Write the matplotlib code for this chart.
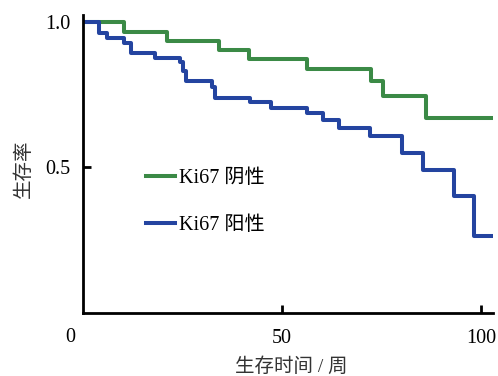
import numpy as np
import matplotlib
matplotlib.use("Agg")
import matplotlib.pyplot as plt

plt.rcParams['font.family'] = ['Liberation Serif', 'Noto Sans CJK SC']

# Kaplan-Meier step data
neg_t = [0, 10.3, 21.1, 34.2, 41.8, 56.2, 72.3, 75.3, 86.2, 103]
neg_s = [1.0, 0.967, 0.936, 0.904, 0.872, 0.838, 0.798, 0.744, 0.671, 0.671]

pos_t = [0, 4.1, 6.0, 10.4, 12.1, 18.1, 24.4, 25.0, 26.0, 32.3, 33.1, 42.0, 47.2,
         56.2, 60.2, 64.3, 72.1, 80.2, 85.3, 93.2, 98.3, 103]
pos_s = [1.0, 0.961, 0.946, 0.929, 0.893, 0.876, 0.864, 0.832, 0.796, 0.776, 0.739,
         0.724, 0.705, 0.687, 0.664, 0.636, 0.607, 0.550, 0.493, 0.402, 0.265, 0.265]

labels = ['Ki67 阴性', 'Ki67 阳性']
green = '#3b8a46'
blue = '#2444a0'
fs = 14.5

fig = plt.figure(figsize=(4.98, 3.76), dpi=100)
ax = fig.add_axes([83/498, 1-313/376, 410/498, 298/376])

ax.step(neg_t, neg_s, where='post', color=green, lw=2.9, label=labels[0])
ax.step(pos_t, pos_s, where='post', color=blue, lw=2.9, label=labels[1])

ax.set_xlim(0, 103)
ax.set_ylim(0, 1.024)
ax.set_xticks([50, 100])
ax.set_yticks([0.5, 1.0])
ax.set_yticklabels(['0.5', '1.0'])
ax.tick_params(direction='in', length=6, width=2, labelsize=fs, colors='black')
ax.tick_params(axis='y', pad=9)
ax.tick_params(axis='x', pad=11.5)
for side in ['top', 'right']:
    ax.spines[side].set_visible(False)
for side in ['left', 'bottom']:
    ax.spines[side].set_linewidth(2)

fig.text(70/498, 1-337/376, '0', fontsize=fs, ha='center', va='center')
fig.text(24/498, 1-169/376, '生存率', fontsize=14, rotation=90, ha='center', va='center',
         color='#333333')
fig.text(291/498, 1-367/376, '生存时间 / 周', fontsize=14, ha='center', va='center',
         color='#333333')

leg = ax.legend(loc='upper left', bbox_to_anchor=(146/498, 1-169/376),
                bbox_transform=fig.transFigure, frameon=False, borderpad=0,
                borderaxespad=0, fontsize=fs, handlelength=1.45, handletextpad=0.2,
                labelspacing=1.4)

fig.savefig('out.png', dpi=100)
